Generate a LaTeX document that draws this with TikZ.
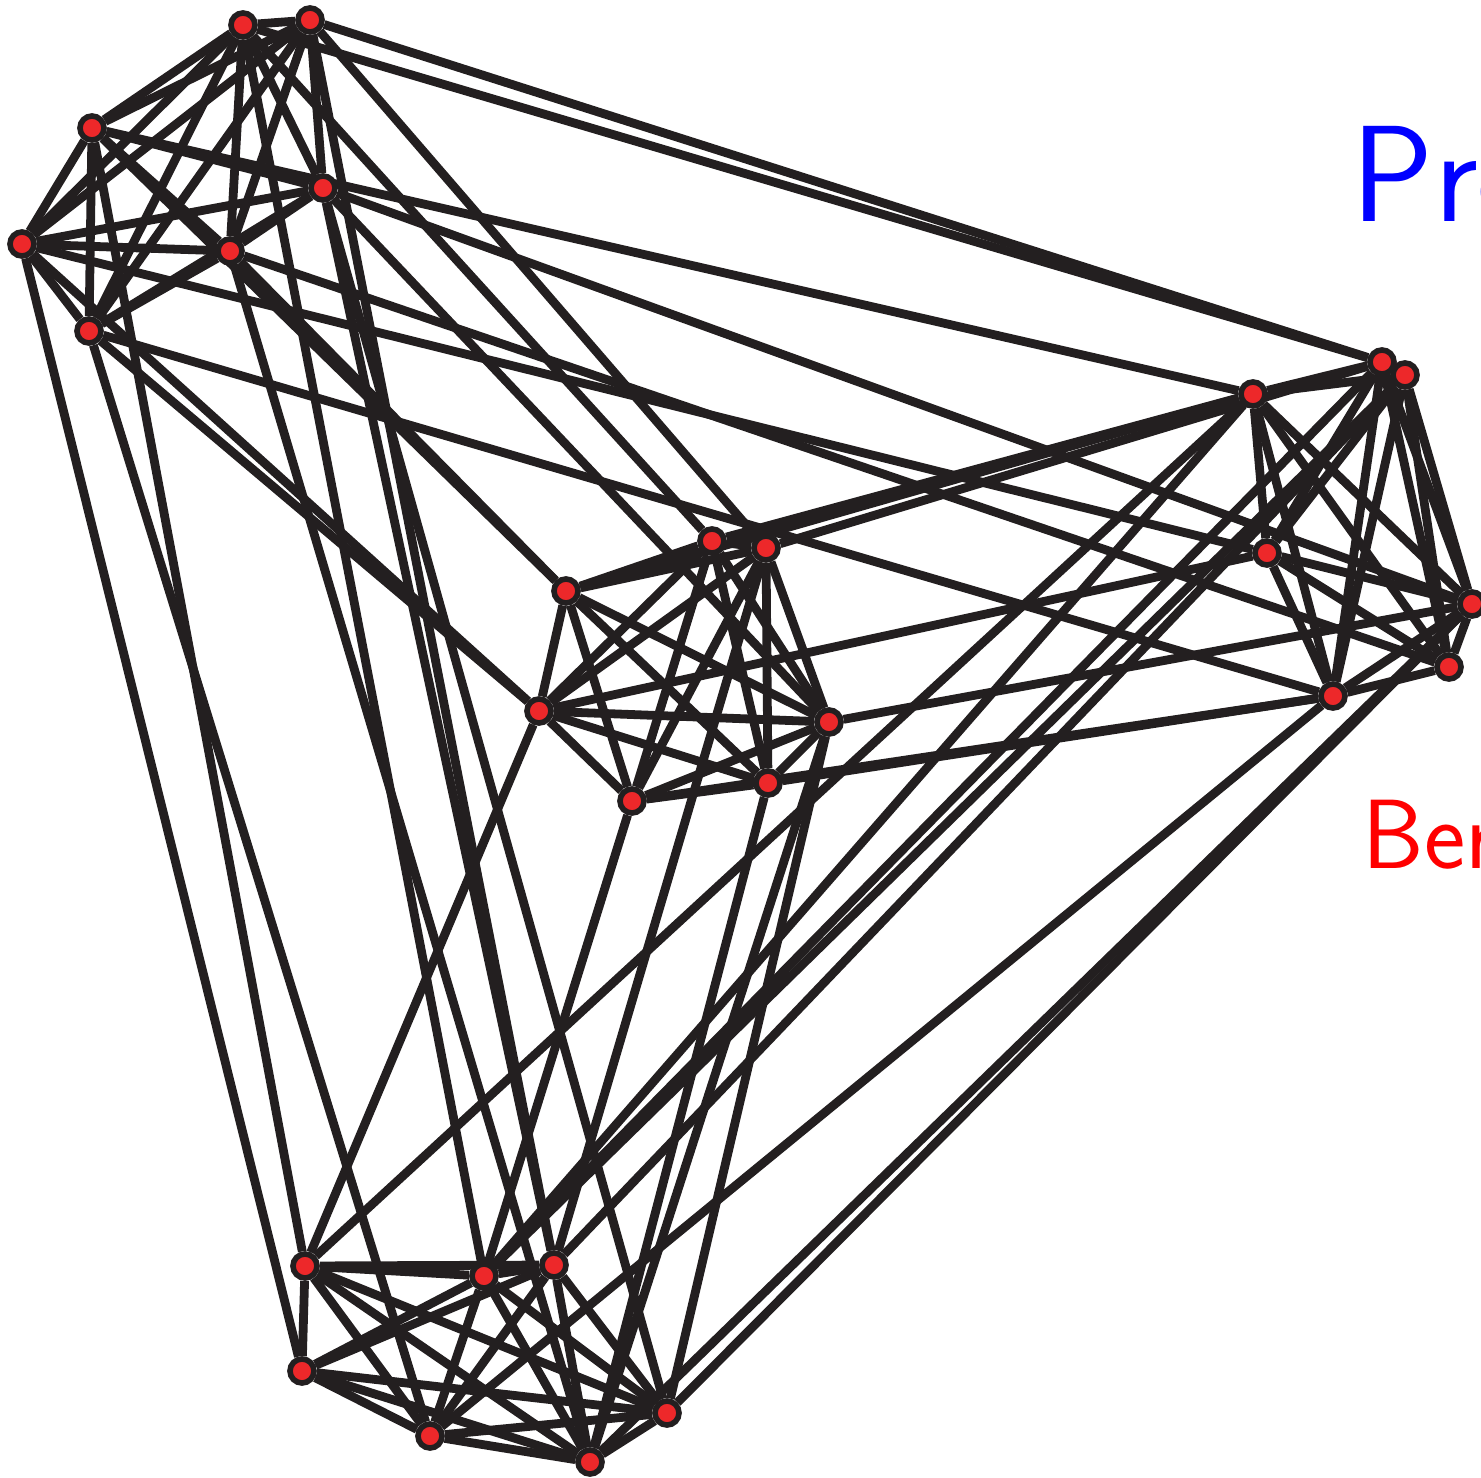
\documentclass[tikz,border=0pt]{standalone}
\usepackage{tikz}
\usetikzlibrary{positioning}
\definecolor{vertexred}{RGB}{237,40,42}
\definecolor{edgeblack}{RGB}{35,31,32}
\pgfdeclarelayer{background}
\pgfsetlayers{background,main}

\begin{document}
\begin{tikzpicture}[
    x=0.01cm, y=-0.01cm,
    vertex/.style={circle, draw=edgeblack, fill=vertexred, line width=1.6pt, minimum size=0.24cm, inner sep=0pt},
    link/.style={draw=edgeblack, line width=2.5pt},
    label/.style={font=\sffamily, anchor=base west, inner sep=0pt}
]
    \useasboundingbox (0,0) rectangle (1481,1478);

    % four groups of seven vertices
    \foreach \name/\px/\py in {a1/243/25, a2/310/20, a3/92/128, a4/323/188, a5/22/244, a6/230/251, a7/89/331,
        b1/566/591, b2/712/541, b3/766/548, b4/539/711, b5/829/722, b6/632/801, b7/768/783,
        c1/1253/394, c2/1382/362, c3/1405/375, c4/1267/553, c5/1472/604, c6/1449/667, c7/1333/696,
        d1/305/1266, d2/484/1276, d3/554/1265, d4/302/1371, d5/430/1436, d6/590/1462, d7/667/1413}
        \node[vertex] (\name) at (\px,\py) {};

    \begin{pgfonlayer}{background}
        % every group is complete
        \foreach \g in {a,b,c,d}
            \foreach \i [evaluate=\i as \k using int(\i+1)] in {1,...,6}
                \foreach \j in {\k,...,7}
                    \draw[link] (\g\i) -- (\g\j);

        % links between groups
        \foreach \u/\v in {a3/b1, a6/b1, a4/b5, a5/b4, a7/b4, a2/b3, a1/b2,
            a1/c2, a2/c2, a3/c1, a4/c5, a6/c6, a5/c4, a7/c7,
            a5/d4, a3/d1, a7/d5, a6/d6, a2/d3, a1/d2, a4/d3, a4/d7,
            b1/c1, b2/c1, b3/c2, b4/c4, b5/c5, b6/c7, b7/c7,
            b5/d7, b7/d6, b5/d6, b3/d3, b4/d1, b6/d2,
            c1/d1, c1/d2, c7/d5, c5/d6, c5/d7, c2/d2, c3/d2, c3/d3}
            \draw[link] (\u) -- (\v);
    \end{pgfonlayer}

    \node[label, text=blue, font=\sffamily\fontsize{39}{43}\selectfont] (prob) at (1351,221) {Pro};
    \node[label, text=red, font=\sffamily\fontsize{28}{32}\selectfont] (bern) at (1362,868) {Ber};
\end{tikzpicture}
\end{document}
